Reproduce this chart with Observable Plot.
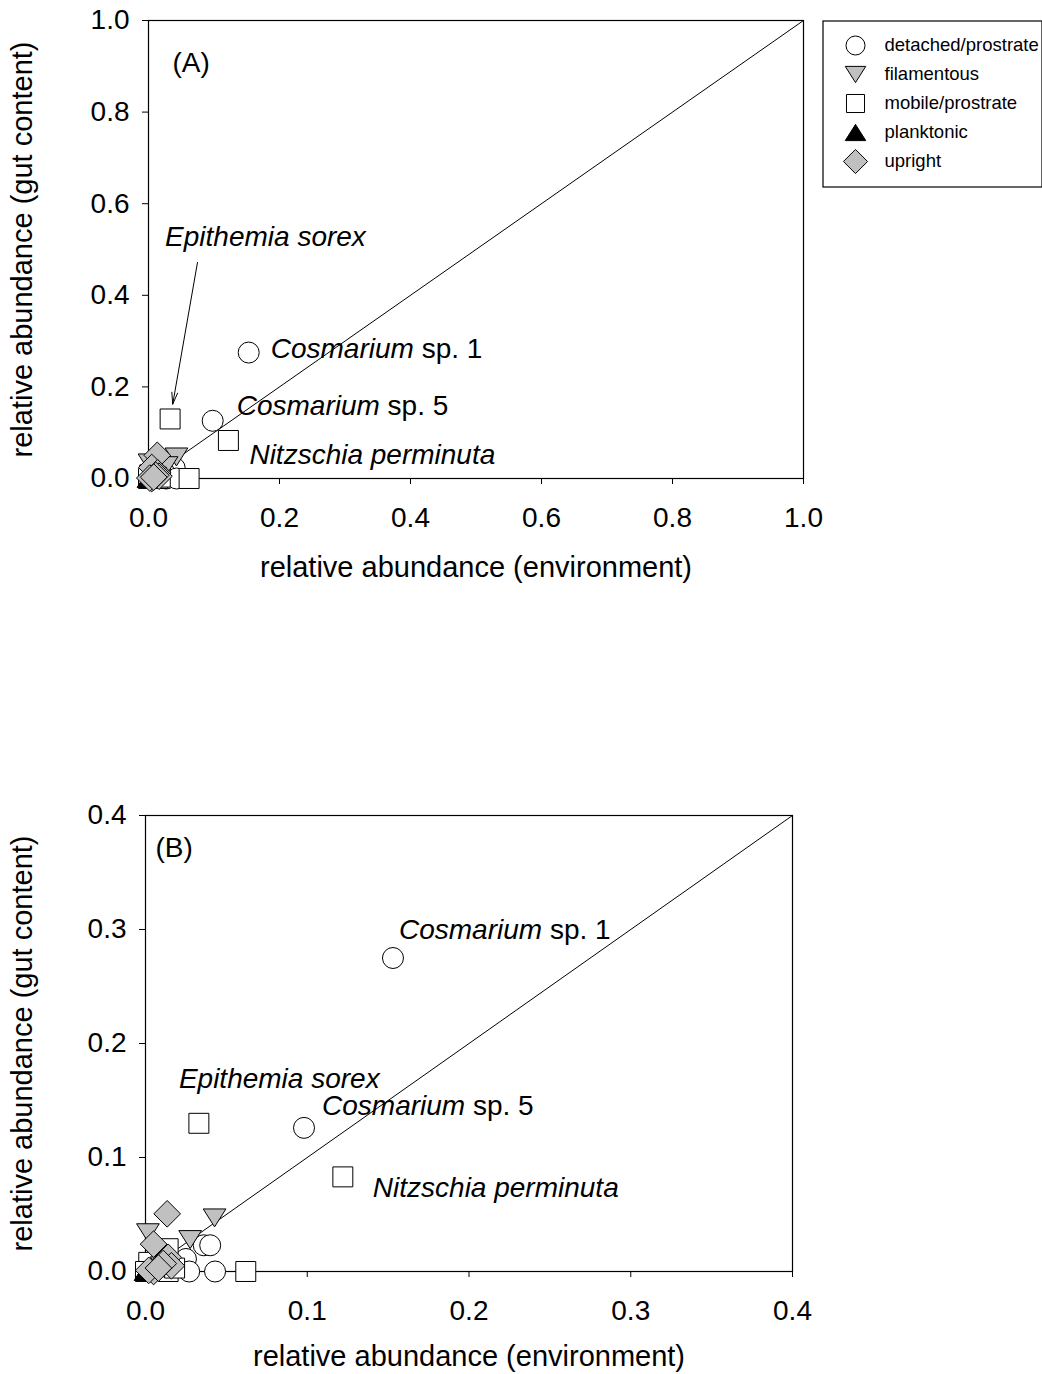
<!DOCTYPE html>
<html><head><meta charset="utf-8">
<script src="https://cdn.jsdelivr.net/npm/d3@7"></script>
<script src="https://cdn.jsdelivr.net/npm/@observablehq/plot@0.6"></script>
<style>
body{margin:0;background:white;font-family:"Liberation Sans",Arial,sans-serif;}
#wrap{position:relative;width:1042px;height:1374px;overflow:hidden;background:white;}
#a{position:absolute;left:0;top:0}
#b{position:absolute;left:0;top:600px}
#legend{position:absolute;left:822px;top:20px}
svg{display:block}
</style></head><body><div id="wrap"><div id="a"></div><div id="legend"></div><div id="b"></div></div>
<script>
// ---- data ----
const categories = ["detached/prostrate", "filamentous", "mobile/prostrate", "planktonic", "upright"];
const fills = ["white", "#c0c0c0", "white", "black", "#c0c0c0"];
const xTitle = "relative abundance (environment)";
const yTitle = "relative abundance (gut content)";
const ticksA = [0, 0.2, 0.4, 0.6, 0.8, 1.0];
const ticksB = [0, 0.1, 0.2, 0.3, 0.4];

const detached = [[0.153,0.275],[0.098,0.126],[0.036,0.023],[0.040,0.023],[0.025,0.011],[0.027,0.0],[0.043,0.0],[0.010,0.004]];
const mobile = [[0.033,0.130],[0.122,0.083],[0.062,0.0],[0.014,0.020],[0.002,0.008],[0.014,0.0],[0.018,0.003],[0.0,0.0]];
const planktonic = [[0.0,0.0],[0.001,0.002]];
const filamentous = [[0.0427,0.047],[0.0015,0.034],[0.0276,0.028],[0.010,0.005]];
const upright = [[0.0134,0.0506],[0.005,0.024],[0.014,0.0125],[0.016,0.005],[0.011,0.007],[0.005,0.0],[0.002,0.001],[0.008,0.003]];

const species = [
  {key: "C1", name: "Cosmarium", suffix: "sp. 1", x: 0.153, y: 0.275},
  {key: "C5", name: "Cosmarium", suffix: "sp. 5", x: 0.098, y: 0.126},
  {key: "NP", name: "Nitzschia perminuta", suffix: "", x: 0.122, y: 0.083},
  {key: "ES", name: "Epithemia sorex", suffix: "", x: 0.033, y: 0.130}
];
const arrowTailA = [{x1: 0.0748, y1: 0.4716, x2: 0.033, y2: 0.130}];

// ---- build ----
const groups = [
  ["detached/prostrate", detached],
  ["mobile/prostrate", mobile],
  ["planktonic", planktonic],
  ["filamentous", filamentous],
  ["upright", upright]
];
const points = groups.flatMap(([g, arr]) => arr.map(([x, y]) => ({x, y, group: g})));

const rad = s => Math.sqrt(s / Math.PI);
const symSquare = {draw(c, s){const h = 0.95 * rad(s); c.moveTo(-h,-h); c.lineTo(h,-h); c.lineTo(h,h); c.lineTo(-h,h); c.closePath();}};
const symTriDown = {draw(c, s){const r = rad(s), w = 1.08*r, h = 0.855*r; c.moveTo(-w,-h); c.lineTo(w,-h); c.lineTo(0,h); c.closePath();}};
const symTriUp = {draw(c, s){const r = rad(s), w = 1.08*r, h = 0.855*r; c.moveTo(-w,h); c.lineTo(w,h); c.lineTo(0,-h); c.closePath();}};
const symDiamond = {draw(c, s){const d = 1.27*rad(s); c.moveTo(0,-d); c.lineTo(d,0); c.lineTo(0,d); c.lineTo(-d,0); c.closePath();}};
const symbols = [d3.symbolCircle, symTriDown, symSquare, symTriUp, symDiamond];

const FONT = "'Liberation Sans', Arial, sans-serif";
const FS = 28;
const TFS = 29;
const ctx = document.createElement("canvas").getContext("2d");
function tw(str, italic) { ctx.font = (italic ? "italic " : "") + FS + "px " + FONT; return ctx.measureText(str).width; }

function panel(o) {
  const diag = [0, o.max];
  const marks = [
    Plot.line(diag, {x: d => d, y: d => d, stroke: "black", strokeWidth: 1}),
    Plot.frame({stroke: "black", strokeWidth: 1.2}),
    Plot.axisX({ticks: o.ticks, tickFormat: d3.format(".1f"), tickSize: 6, tickPadding: 23, label: null, fontSize: FS}),
    Plot.axisY({ticks: o.ticks, tickFormat: d3.format(".1f"), tickSize: 6, tickPadding: 13, label: null, fontSize: FS}),
    Plot.text([xTitle], {text: d => d, frameAnchor: "bottom", dy: o.xTitleDy, textAnchor: "middle", lineAnchor: "middle", fontSize: TFS}),
    Plot.text([yTitle], {text: d => d, frameAnchor: "left", dx: o.yTitleDx, rotate: -90, textAnchor: "middle", lineAnchor: "middle", fontSize: TFS}),
    Plot.text([o.tag], {text: d => d, frameAnchor: "top-left", dx: o.tagOff[0], dy: o.tagOff[1], textAnchor: "start", lineAnchor: "middle", fontSize: FS})
  ];
  if (o.arrow) marks.push(Plot.arrow(o.arrow, {x1: "x1", y1: "y1", x2: "x2", y2: "y2", insetEnd: 15, headLength: 18, headAngle: 28, stroke: "black", strokeWidth: 1}));
  marks.push(Plot.dot(points, {x: "x", y: "y", symbol: "group", fill: "group", stroke: "black", strokeWidth: 1, r: 10.5}));
  for (const s of species) {
    const off = o.offsets[s.key];
    marks.push(Plot.text([s], {x: "x", y: "y", text: d => d.name, dx: off[0], dy: off[1], textAnchor: "start", lineAnchor: "middle", fontStyle: "italic", fontSize: FS}));
    if (s.suffix) {
      const w = tw(s.name, true) + tw(" ", false);
      marks.push(Plot.text([s], {x: "x", y: "y", text: d => d.suffix, dx: off[0] + w, dy: off[1], textAnchor: "start", lineAnchor: "middle", fontSize: FS}));
    }
  }
  return Plot.plot({
    width: 1042, height: o.height,
    marginLeft: o.ml, marginRight: o.mr, marginTop: o.mt, marginBottom: o.mb,
    style: {fontFamily: FONT, fontSize: FS + "px", background: "white", color: "black", overflow: "visible"},
    x: {domain: [0, o.max], axis: null},
    y: {domain: [0, o.max], axis: null},
    symbol: {domain: categories, range: symbols},
    color: {domain: categories, range: fills},
    marks
  });
}

document.getElementById("a").append(panel({
  max: 1.0, ticks: ticksA, height: 600, ml: 148, mr: 239, mt: 20, mb: 122,
  xTitleDy: 89, yTitleDx: -126, tag: "(A)", tagOff: [24, 43],
  offsets: {C1: [22, -4], C5: [24, -15], NP: [21, 15], ES: [-5, -182]},
  arrow: arrowTailA
}));

document.getElementById("b").append(panel({
  max: 0.4, ticks: ticksB, height: 774, ml: 145, mr: 250, mt: 215, mb: 103,
  xTitleDy: 85, yTitleDx: -123, tag: "(B)", tagOff: [10, 33],
  offsets: {C1: [6, -28], C5: [18, -22], NP: [30, 11], ES: [-20, -44]}
}));

document.getElementById("legend").append(Plot.plot({
  width: 220, height: 167, margin: 0,
  style: {fontFamily: FONT, background: "white", color: "black", overflow: "visible"},
  y: {type: "point", domain: categories, range: [25, 141], padding: 0, axis: null},
  symbol: {domain: categories, range: symbols},
  color: {domain: categories, range: fills},
  marks: [
    Plot.frame({inset: 0.5, stroke: "black", strokeWidth: 1.2}),
    Plot.dot(categories, {y: d => d, frameAnchor: "left", dx: 33, symbol: d => d, fill: d => d, stroke: "black", strokeWidth: 1, r: 9.5}),
    Plot.text(categories, {y: d => d, text: d => d, frameAnchor: "left", dx: 62, textAnchor: "start", fontSize: 18.5})
  ]
}));
</script></body></html>
